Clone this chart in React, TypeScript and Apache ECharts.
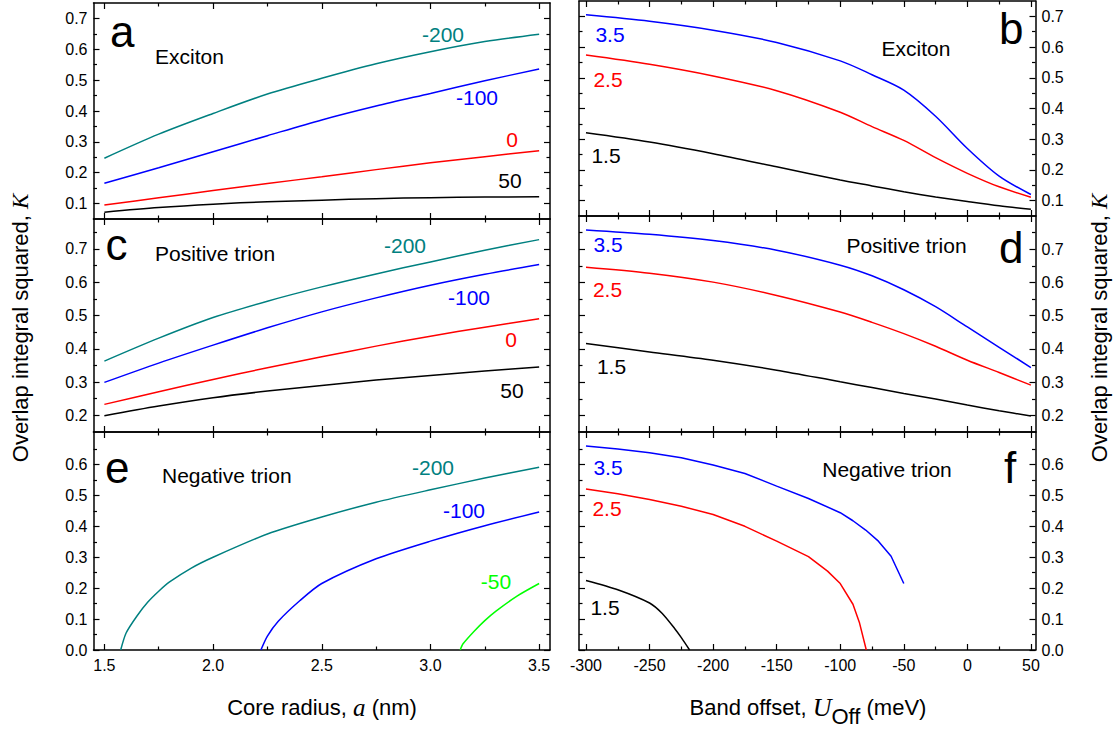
import React, { useEffect, useRef } from "react";
import * as echarts from "echarts";

// ---------- Data: left column (vs core radius a, nm), label = band offset (meV) ----------
const coreRadius = [1.5, 1.75, 2.0, 2.25, 2.5, 2.75, 3.0, 3.25, 3.5];

const excitonRadM200 = [0.247, 0.325, 0.392, 0.455, 0.506, 0.553, 0.592, 0.625, 0.649];
const excitonRadM100 = [0.166, 0.216, 0.268, 0.32, 0.371, 0.416, 0.457, 0.498, 0.536];
const excitonRad0 = [0.095, 0.119, 0.142, 0.165, 0.187, 0.21, 0.232, 0.252, 0.271];
const excitonRad50 = [0.072, 0.087, 0.098, 0.106, 0.111, 0.116, 0.119, 0.121, 0.122];

const posTrionRadM200 = [0.363, 0.432, 0.494, 0.543, 0.586, 0.625, 0.661, 0.696, 0.728];
const posTrionRadM100 = [0.299, 0.357, 0.411, 0.463, 0.511, 0.553, 0.591, 0.624, 0.653];
const posTrionRad0 = [0.233, 0.271, 0.308, 0.343, 0.376, 0.408, 0.438, 0.465, 0.49];
const posTrionRad50 = [0.199, 0.228, 0.253, 0.273, 0.29, 0.306, 0.32, 0.333, 0.345];

const negTrionRadM200X = [1.575, 1.6, 1.65, 1.7, 1.75, 1.8, 1.9, 2.0, 2.25, 2.5, 2.75, 3.0, 3.25, 3.5];
const negTrionRadM200 = [0, 0.055, 0.11, 0.155, 0.19, 0.22, 0.265, 0.3, 0.375, 0.43, 0.478, 0.518, 0.556, 0.591];
const negTrionRadM100X = [2.22, 2.25, 2.3, 2.4, 2.5, 2.75, 3.0, 3.25, 3.5];
const negTrionRadM100 = [0, 0.045, 0.093, 0.16, 0.215, 0.295, 0.352, 0.402, 0.446];
const negTrionRadM50X = [3.137, 3.15, 3.2, 3.25, 3.3, 3.4, 3.5];
const negTrionRadM50 = [0, 0.02, 0.06, 0.095, 0.125, 0.175, 0.215];

// ---------- Data: right column (vs band offset, meV), label = core radius (nm) ----------
const bandOffset = [-300, -250, -200, -150, -100, -75, -50, -25, 0, 25, 50];

const excitonOff35 = [0.705, 0.684, 0.655, 0.615, 0.555, 0.51, 0.46, 0.375, 0.27, 0.18, 0.12];
const excitonOff25 = [0.574, 0.544, 0.506, 0.458, 0.388, 0.341, 0.296, 0.24, 0.189, 0.145, 0.111];
const excitonOff15 = [0.321, 0.291, 0.253, 0.21, 0.167, 0.148, 0.129, 0.112, 0.097, 0.083, 0.072];

const posTrionOff35 = [0.758, 0.745, 0.726, 0.697, 0.652, 0.62, 0.578, 0.527, 0.466, 0.405, 0.344];
const posTrionOff25 = [0.646, 0.628, 0.601, 0.561, 0.511, 0.48, 0.446, 0.408, 0.366, 0.329, 0.291];
const posTrionOff15 = [0.416, 0.391, 0.366, 0.336, 0.301, 0.284, 0.266, 0.249, 0.231, 0.214, 0.198];

const negTrionOff35X = [-300, -275, -250, -225, -200, -175, -150, -125, -100, -90, -80, -70, -60, -50];
const negTrionOff35 = [0.66, 0.65, 0.638, 0.622, 0.598, 0.571, 0.53, 0.49, 0.444, 0.418, 0.388, 0.352, 0.303, 0.215];
const negTrionOff25X = [-300, -275, -250, -225, -200, -175, -150, -125, -110, -100, -90, -85, -79.5];
const negTrionOff25 = [0.521, 0.505, 0.487, 0.465, 0.438, 0.4, 0.352, 0.302, 0.255, 0.215, 0.148, 0.09, 0];
const negTrionOff15X = [-300, -275, -250, -240, -230, -225, -218.5];
const negTrionOff15 = [0.225, 0.195, 0.152, 0.118, 0.068, 0.04, 0];

// ---------- Tick values ----------
const radiusTicks = [1.5, 2.0, 2.5, 3.0, 3.5];
const radiusMinorTicks = [1.75, 2.25, 2.75, 3.25];
const offsetTicks = [-300, -250, -200, -150, -100, -50, 0, 50];
const offsetMinorTicks = [-275, -225, -175, -125, -75, -25, 25];
const kTicksTop = [0.1, 0.2, 0.3, 0.4, 0.5, 0.6, 0.7];
const kMinorTop = [0.15, 0.25, 0.35, 0.45, 0.55, 0.65];
const kTicksMid = [0.2, 0.3, 0.4, 0.5, 0.6, 0.7];
const kMinorMid = [0.25, 0.35, 0.45, 0.55, 0.65, 0.75];
const kTicksBot = [0.0, 0.1, 0.2, 0.3, 0.4, 0.5, 0.6];
const kMinorBot = [0.05, 0.15, 0.25, 0.35, 0.45, 0.55, 0.65];

const TEAL = "#008080";
const BLUE = "#0000ff";
const RED = "#ff0000";
const BLACK = "#000000";
const GREEN = "#00ff00";
const SANS = '"Liberation Sans", Arial, Helvetica, sans-serif';
const SERIF = '"Liberation Serif", "Times New Roman", serif';

type Curve = { xs: number[]; ys: number[]; color: string; smooth: number | boolean };

function buildOption() {
  const L = { left: 93.5, width: 456.5 };
  const R = { left: 579, width: 456.5 };
  const radX = [1.45, 3.55];
  const offX = [-305.5, 53.6];
  const fmt1 = (v: number) => v.toFixed(1);
  const fmt0 = (v: number) => String(Math.round(v));

  const panels = [
    {
      rect: { ...L, top: 3, height: 216 }, xr: radX, yr: [0.05, 0.75],
      xMaj: radiusTicks, xMin: radiusMinorTicks, yMaj: kTicksTop, yMin: kMinorTop,
      xLab: false, side: "left", xf: fmt1,
      curves: [
        { xs: coreRadius, ys: excitonRadM200, color: TEAL, smooth: 0.3 },
        { xs: coreRadius, ys: excitonRadM100, color: BLUE, smooth: 0.3 },
        { xs: coreRadius, ys: excitonRad0, color: RED, smooth: 0.3 },
        { xs: coreRadius, ys: excitonRad50, color: BLACK, smooth: 0.3 },
      ] as Curve[],
    },
    {
      rect: { ...R, top: 1, height: 215 }, xr: offX, yr: [0.05, 0.75],
      xMaj: offsetTicks, xMin: offsetMinorTicks, yMaj: kTicksTop, yMin: kMinorTop,
      xLab: false, side: "right", xf: fmt0,
      curves: [
        { xs: bandOffset, ys: excitonOff35, color: BLUE, smooth: 0.3 },
        { xs: bandOffset, ys: excitonOff25, color: RED, smooth: 0.3 },
        { xs: bandOffset, ys: excitonOff15, color: BLACK, smooth: 0.3 },
      ] as Curve[],
    },
    {
      rect: { ...L, top: 219, height: 213 }, xr: radX, yr: [0.15, 0.79],
      xMaj: radiusTicks, xMin: radiusMinorTicks, yMaj: kTicksMid, yMin: kMinorMid,
      xLab: false, side: "left", xf: fmt1,
      curves: [
        { xs: coreRadius, ys: posTrionRadM200, color: TEAL, smooth: 0.3 },
        { xs: coreRadius, ys: posTrionRadM100, color: BLUE, smooth: 0.3 },
        { xs: coreRadius, ys: posTrionRad0, color: RED, smooth: 0.3 },
        { xs: coreRadius, ys: posTrionRad50, color: BLACK, smooth: 0.3 },
      ] as Curve[],
    },
    {
      rect: { ...R, top: 216, height: 216 }, xr: offX, yr: [0.15, 0.8],
      xMaj: offsetTicks, xMin: offsetMinorTicks, yMaj: kTicksMid, yMin: kMinorMid,
      xLab: false, side: "right", xf: fmt0,
      curves: [
        { xs: bandOffset, ys: posTrionOff35, color: BLUE, smooth: 0.3 },
        { xs: bandOffset, ys: posTrionOff25, color: RED, smooth: 0.3 },
        { xs: bandOffset, ys: posTrionOff15, color: BLACK, smooth: 0.3 },
      ] as Curve[],
    },
    {
      rect: { ...L, top: 432, height: 218 }, xr: radX, yr: [0, 0.705],
      xMaj: radiusTicks, xMin: radiusMinorTicks, yMaj: kTicksBot, yMin: kMinorBot,
      xLab: true, side: "left", xf: fmt1,
      curves: [
        { xs: negTrionRadM200X, ys: negTrionRadM200, color: TEAL, smooth: 0.25 },
        { xs: negTrionRadM100X, ys: negTrionRadM100, color: BLUE, smooth: 0.25 },
        { xs: negTrionRadM50X, ys: negTrionRadM50, color: GREEN, smooth: 0.25 },
      ] as Curve[],
    },
    {
      rect: { ...R, top: 432, height: 218 }, xr: offX, yr: [0, 0.705],
      xMaj: offsetTicks, xMin: offsetMinorTicks, yMaj: kTicksBot, yMin: kMinorBot,
      xLab: true, side: "right", xf: fmt0,
      curves: [
        { xs: negTrionOff35X, ys: negTrionOff35, color: BLUE, smooth: false },
        { xs: negTrionOff25X, ys: negTrionOff25, color: RED, smooth: false },
        { xs: negTrionOff15X, ys: negTrionOff15, color: BLACK, smooth: 0.25 },
      ] as Curve[],
    },
  ];

  const grid: any[] = [];
  const xAxis: any[] = [];
  const yAxis: any[] = [];
  const series: any[] = [];

  const axisLine = { show: true, onZero: false, lineStyle: { color: "#000", width: 1.5 } };
  const noLine = { show: false, onZero: false };
  const tick = (vals: number[], len: number) => ({
    show: true, inside: true, length: len, customValues: vals,
    lineStyle: { color: "#000", width: 1.2 },
  });
  const label = (show: boolean, vals: number[], f: (v: number) => string, margin: number) =>
    show
      ? { show: true, customValues: vals, formatter: f, color: "#000", fontSize: 16, fontFamily: SANS, margin }
      : { show: false };
  const common = { type: "value", splitLine: { show: false }, minorTick: { show: false }, minorSplitLine: { show: false } };

  panels.forEach((p, i) => {
    grid.push({ ...p.rect, show: false, containLabel: false });
    grid.push({ ...p.rect, show: false, containLabel: false });
    const gMaj = 2 * i;
    const gMin = 2 * i + 1;
    const xr = { min: p.xr[0], max: p.xr[1] };
    const yr = { min: p.yr[0], max: p.yr[1] };
    // x axes
    xAxis.push({ ...common, ...xr, gridIndex: gMaj, position: "bottom", axisLine, axisTick: tick(p.xMaj, 6), axisLabel: label(p.xLab, p.xMaj, p.xf, 7) });
    xAxis.push({ ...common, ...xr, gridIndex: gMaj, position: "top", axisLine, axisTick: tick(p.xMaj, 6), axisLabel: { show: false } });
    xAxis.push({ ...common, ...xr, gridIndex: gMin, position: "bottom", axisLine: noLine, axisTick: tick(p.xMin, 3.5), axisLabel: { show: false } });
    xAxis.push({ ...common, ...xr, gridIndex: gMin, position: "top", axisLine: noLine, axisTick: tick(p.xMin, 3.5), axisLabel: { show: false } });
    // y axes
    yAxis.push({ ...common, ...yr, gridIndex: gMaj, position: "left", axisLine, axisTick: tick(p.yMaj, 6), axisLabel: label(p.side === "left", p.yMaj, fmt1, 6) });
    yAxis.push({ ...common, ...yr, gridIndex: gMaj, position: "right", axisLine, axisTick: tick(p.yMaj, 6), axisLabel: label(p.side === "right", p.yMaj, fmt1, 6) });
    yAxis.push({ ...common, ...yr, gridIndex: gMin, position: "left", axisLine: noLine, axisTick: tick(p.yMin, 3.5), axisLabel: { show: false } });
    yAxis.push({ ...common, ...yr, gridIndex: gMin, position: "right", axisLine: noLine, axisTick: tick(p.yMin, 3.5), axisLabel: { show: false } });

    p.curves.forEach((c) => {
      series.push({
        type: "line",
        xAxisIndex: 4 * i,
        yAxisIndex: 4 * i,
        data: c.xs.map((x, k) => [x, c.ys[k]]),
        showSymbol: false,
        symbol: "none",
        smooth: c.smooth,
        silent: true,
        lineStyle: { color: c.color, width: 1.5 },
        itemStyle: { color: c.color },
        z: 3,
      });
    });
  });

  const txt = (text: string, x: number, y: number, fill: string, fontSize = 21, align = "center") => ({
    type: "text", x, y, silent: true, z: 10,
    style: { text, fill, fontSize, fontFamily: SANS, align, verticalAlign: "middle" },
  });

  const graphic: any[] = [
    // panel letters
    txt("a", 110, 31.5, BLACK, 44, "left"),
    txt("b", 999, 28, BLACK, 44, "left"),
    txt("c", 105.5, 244.8, BLACK, 44, "left"),
    txt("d", 999, 247.8, BLACK, 44, "left"),
    txt("e", 105, 467.8, BLACK, 44, "left"),
    txt("f", 1004, 467.8, BLACK, 44, "left"),
    // panel a
    txt("Exciton", 155, 56, BLACK, 21, "left"),
    txt("-200", 443, 34.5, TEAL),
    txt("-100", 477, 97, BLUE),
    txt("0", 512, 139.5, RED),
    txt("50", 510, 180.5, BLACK),
    // panel b
    txt("Exciton", 916, 48, BLACK),
    txt("3.5", 610, 34.5, BLUE),
    txt("2.5", 608, 79.5, RED),
    txt("1.5", 606, 155.5, BLACK),
    // panel c
    txt("Positive trion", 155, 253, BLACK, 21, "left"),
    txt("-200", 405, 245, TEAL),
    txt("-100", 469, 297.5, BLUE),
    txt("0", 511, 339.5, RED),
    txt("50", 512, 390.5, BLACK),
    // panel d
    txt("Positive trion", 906.5, 245, BLACK),
    txt("3.5", 608, 244.5, BLUE),
    txt("2.5", 607.5, 289.5, RED),
    txt("1.5", 611.5, 366, BLACK),
    // panel e
    txt("Negative trion", 162, 475, BLACK, 21, "left"),
    txt("-200", 433, 467.5, TEAL),
    txt("-100", 464, 510, BLUE),
    txt("-50", 496, 581, GREEN),
    // panel f
    txt("Negative trion", 887, 469, BLACK),
    txt("3.5", 608, 467, BLUE),
    txt("2.5", 607, 508, RED),
    txt("1.5", 605, 607, BLACK),
    // axis titles
    {
      type: "text", x: 20, y: 328, rotation: Math.PI / 2, silent: true,
      style: {
        text: "{n|Overlap integral squared, }{i|K}",
        align: "center", verticalAlign: "middle", fill: "#000",
        rich: {
          n: { fontSize: 22, fontFamily: SANS, fill: "#000" },
          i: { fontSize: 23, fontFamily: SERIF, fontStyle: "italic", fill: "#000" },
        },
      },
    },
    {
      type: "text", x: 1099, y: 328, rotation: Math.PI / 2, silent: true,
      style: {
        text: "{n|Overlap integral squared, }{i|K}",
        align: "center", verticalAlign: "middle", fill: "#000",
        rich: {
          n: { fontSize: 22, fontFamily: SANS, fill: "#000" },
          i: { fontSize: 23, fontFamily: SERIF, fontStyle: "italic", fill: "#000" },
        },
      },
    },
    {
      type: "text", x: 322, y: 707, silent: true,
      style: {
        text: "{n|Core radius, }{i|a}{n| (nm)}",
        align: "center", verticalAlign: "middle", fill: "#000",
        rich: {
          n: { fontSize: 22, fontFamily: SANS, fill: "#000" },
          i: { fontSize: 25, fontFamily: SERIF, fontStyle: "italic", fill: "#000" },
        },
      },
    },
    {
      type: "text", x: 808, y: 707, silent: true,
      style: {
        text: "{n|Band offset, }{i|U}{s|Off}{n| (meV)}",
        align: "center", verticalAlign: "middle", fill: "#000",
        rich: {
          n: { fontSize: 22, fontFamily: SANS, fill: "#000" },
          i: { fontSize: 26, fontFamily: SERIF, fontStyle: "italic", fill: "#000" },
          s: { fontSize: 22, fontFamily: SANS, fill: "#000", padding: [18, 0, 0, 0] },
        },
      },
    },
  ];

  return {
    animation: false,
    backgroundColor: "#ffffff",
    grid,
    xAxis,
    yAxis,
    series,
    graphic,
  };
}

export default function App() {
  const ref = useRef<HTMLDivElement>(null);
  useEffect(() => {
    if (!ref.current) return;
    const chart = echarts.init(ref.current, undefined, { renderer: "svg" });
    chart.setOption(buildOption() as any);
    return () => chart.dispose();
  }, []);
  return (
    <div
      ref={ref}
      style={{ position: "absolute", left: 0, top: 0, width: 1116, height: 730, background: "#fff" }}
    />
  );
}
